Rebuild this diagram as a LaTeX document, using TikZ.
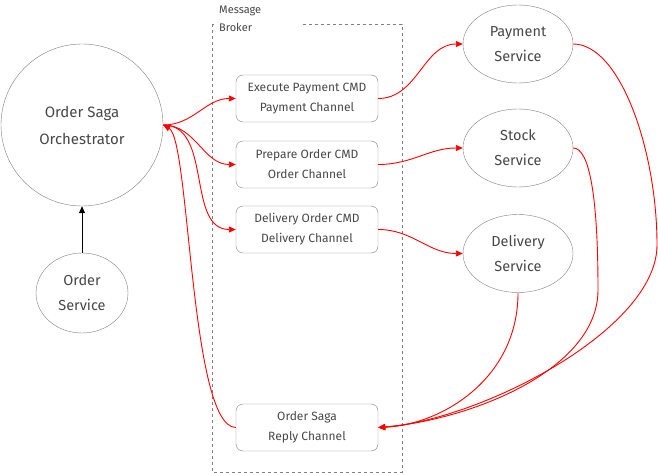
\documentclass[tikz,border=0pt]{standalone}
\usepackage{fontspec}
\setmainfont{Fira Sans}
\usetikzlibrary{arrows.meta,shapes.geometric}

\definecolor{linegray}{HTML}{808080}
\definecolor{textgray}{HTML}{474747}
\definecolor{flowred}{HTML}{FF0000}

\tikzset{
  channel/.style={draw=linegray, rounded corners=7pt, minimum width=142pt,
    minimum height=47pt, inner sep=0pt, align=center, text=textgray,
    font=\fontsize{12}{20}\selectfont},
  service/.style={draw=linegray, ellipse, minimum width=110pt,
    minimum height=78pt, inner sep=0pt, align=center, text=textgray,
    font=\fontsize{14.5}{25}\selectfont},
  flow/.style={draw=flowred, line width=0.9pt,
    -{Triangle[length=7pt,width=6pt]}},
}

\begin{document}
\begin{tikzpicture}[x=1pt, y=1pt]

  \useasboundingbox (0,0) rectangle (658,-473);

  % Orchestrator and the service that starts it
  \node[draw=linegray, circle, minimum size=162pt, inner sep=0pt, align=center,
    text=textgray, font=\fontsize{15}{27}\selectfont]
    (orch) at (82,-125) {Order Saga\\Orchestrator};
  \node[draw=linegray, ellipse, minimum width=92pt, minimum height=80pt,
    inner sep=0pt, align=center, text=textgray,
    font=\fontsize{14.5}{25}\selectfont]
    (ordersvc) at (82,-293) {Order\\Service};

  \draw[line width=0.9pt, -{Triangle[length=7pt,width=6pt]}]
    (ordersvc) -- (orch);

  % Message broker
  \draw[linegray, dashed, line width=0.8pt] (212,-24) rectangle (402,-472);
  \node[fill=white, anchor=north west, inner sep=5pt, text width=78pt,
    align=left, text=textgray, font=\fontsize{11}{18}\selectfont]
    (broker) at (214,-1) {Message\\Broker};

  \node[channel] (execpay) at (307,-98.5)  {Execute Payment CMD\\Payment Channel};
  \node[channel] (preporder) at (307,-164.5) {Prepare Order CMD\\Order Channel};
  \node[channel] (delorder) at (307,-229.5) {Delivery Order CMD\\Delivery Channel};
  \node[channel] (reply) at (307,-427.5) {Order Saga\\Reply Channel};

  % Services
  \node[service] (paysvc) at (518,-44)    {Payment\\Service};
  \node[service] (stocksvc) at (518,-148) {Stock\\Service};
  \node[service] (delsvc) at (518,-253.5) {Delivery\\Service};

  \coordinate (payturn) at (657,-245);
  \coordinate (stockturn) at (598,-290);

  % Commands
  \draw[flow] (orch.east) to[out=0, in=180] (execpay.west);
  \draw[flow] (orch.east) to[out=0, in=180] (preporder.west);
  \draw[flow] (orch.east) to[out=0, in=180] (delorder.west);

  \draw[flow] (execpay.east) to[out=0, in=180] (paysvc.west);
  \draw[flow] (preporder.east) to[out=0, in=180] (stocksvc.west);
  \draw[flow] (delorder.east) to[out=0, in=180] (delsvc.west);

  % Replies
  \draw[flow] (paysvc.east) .. controls (620,-44) and (657,-150) .. (payturn)
    .. controls (657,-330) and (480,-420) .. (reply.east);
  \draw[flow] (stocksvc.east) .. controls (590,-148) and (598,-200) .. (stockturn)
    .. controls (598,-370) and (470,-420) .. (reply.east);
  \draw[flow] (delsvc.south) .. controls (518,-380) and (440,-425) .. (reply.east);

  \draw[flow] (reply.west) .. controls (190,-427) and (190,-140) .. (orch.east);

\end{tikzpicture}
\end{document}
